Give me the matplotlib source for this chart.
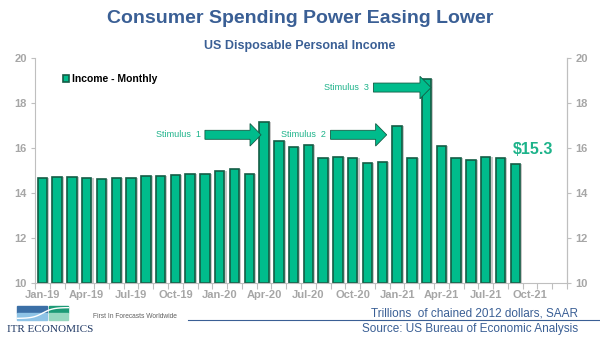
import matplotlib
matplotlib.use("Agg")
import matplotlib.pyplot as plt
import numpy as np
from matplotlib.patches import Rectangle, FancyArrow

plt.rcParams["font.family"] = ["Liberation Sans", "DejaVu Sans"]

months = ["Jan-19","Feb-19","Mar-19","Apr-19","May-19","Jun-19","Jul-19","Aug-19","Sep-19","Oct-19","Nov-19","Dec-19",
          "Jan-20","Feb-20","Mar-20","Apr-20","May-20","Jun-20","Jul-20","Aug-20","Sep-20","Oct-20","Nov-20","Dec-20",
          "Jan-21","Feb-21","Mar-21","Apr-21","May-21","Jun-21","Jul-21","Aug-21","Sep-21","Oct-21","Nov-21","Dec-21"]
income = [14.70, 14.72, 14.72, 14.68, 14.65, 14.67, 14.69, 14.77, 14.79, 14.81, 14.88, 14.84,
          14.97, 15.06, 14.84, 17.15, 16.32, 16.04, 16.14, 15.56, 15.63, 15.57, 15.36, 15.38,
          16.97, 15.55, 19.10, 16.10, 15.58, 15.50, 15.61, 15.57, 15.31]
tick_labels = ["Jan-19","Apr-19","Jul-19","Oct-19","Jan-20","Apr-20","Jul-20","Oct-20","Jan-21","Apr-21","Jul-21","Oct-21"]
yticks = [10, 12, 14, 16, 18, 20]

BAR = "#00BC8C"
EDGE = "#145C45"
TEAL_TXT = "#1DB38A"
BLUE = "#3A5F95"
GREY = "#A6A6A6"

fig = plt.figure(figsize=(6, 3.38), dpi=100)
ax = fig.add_axes([0.0583, 0.1618, 0.8867, 0.6657])

x = np.arange(len(income))
ax.bar(x + 0.14, [v - 10 for v in income], 0.64, bottom=10, color="#C8C8C8", zorder=1)
ax.bar(x, [v - 10 for v in income], 0.64, bottom=10, color=BAR, edgecolor=EDGE, linewidth=1.2, zorder=2,
       label="Income - Monthly")

ax.set_xlim(-0.5, len(months) - 0.5)
ax.set_ylim(10, 20)
ax.set_yticks(yticks)
ax.set_xticks([months.index(t) for t in tick_labels])
ax.set_xticklabels(tick_labels)
ax.set_xticks(np.arange(-0.5, len(months), 1.0), minor=True)
ax.tick_params(axis="x", which="major", length=0, labelsize=8, colors=GREY, pad=5)
ax.tick_params(axis="x", which="minor", length=4, width=0.8, color="#BFBFBF", direction="out")
ax.tick_params(axis="y", length=3, color="#BFBFBF", labelsize=8, labelcolor=GREY, pad=3)
for t in ax.get_xticklabels() + ax.get_yticklabels():
    t.set_fontweight("bold")

ax.spines["top"].set_visible(False)
for s in ["left", "right", "bottom"]:
    ax.spines[s].set_color("#BFBFBF")
    ax.spines[s].set_linewidth(0.8)

ax2 = ax.twinx()
ax2.set_ylim(10, 20)
ax2.set_yticks(yticks)
ax2.tick_params(axis="y", length=3, color="#BFBFBF", labelsize=8, labelcolor=GREY, pad=3)
for t in ax2.get_yticklabels():
    t.set_fontweight("bold")
for s in ["top", "left", "bottom"]:
    ax2.spines[s].set_visible(False)
ax2.spines["right"].set_color("#BFBFBF")

ax.legend(loc="upper left", bbox_to_anchor=(0.035, 0.97), frameon=False,
          handlelength=0.6, handleheight=0.6, handletextpad=0.3, prop={"weight": "bold", "size": 7.5})

# annotations
def stim(label, tx, ty, x0, x1):
    ax.text(tx, ty, label, color=TEAL_TXT, fontsize=6.5, ha="right", va="center")
    ax.add_patch(FancyArrow(x0, ty, x1 - x0, 0, width=0.4, head_width=1.0, head_length=0.75,
                            length_includes_head=True, facecolor=BAR, edgecolor=EDGE, linewidth=0.6, zorder=5))

stim("Stimulus  1", 10.7, 16.6, 11.0, 14.8)
stim("Stimulus  2", 19.2, 16.6, 19.5, 23.3)
stim("Stimulus  3", 22.1, 18.7, 22.4, 26.3)
ax.text(33.2, 15.95, "$15.3", color=TEAL_TXT, fontsize=11.5, fontweight="bold", ha="center", va="center")

fig.text(0.5, 0.945, "Consumer Spending Power Easing Lower", color=BLUE, fontsize=14, fontweight="bold",
         ha="center", va="center")
fig.text(0.5, 0.865, "US Disposable Personal Income", color=BLUE, fontsize=9, fontweight="bold",
         ha="center", va="center")

# footer
fig.text(0.963, 0.072, "Trillions  of chained 2012 dollars, SAAR", color=BLUE, fontsize=8.5, ha="right", va="center")
fig.text(0.963, 0.028, "Source: US Bureau of Economic Analysis", color=BLUE, fontsize=8.5, ha="right", va="center")
fig.add_artist(plt.Line2D([0.313, 1.0], [0.052, 0.052], transform=fig.transFigure, color=BLUE, linewidth=0.8))
fig.text(0.155, 0.052, "First In Forecasts Worldwide", color="#606060", fontsize=4.8, ha="left", va="bottom")
fig.text(0.012, 0.025, "ITR ECONOMICS", color="#1F3864", fontsize=8, family="Liberation Serif", ha="left", va="center")
lx, ly, lw, lh = 0.029, 0.054, 0.05, 0.04
fig.add_artist(Rectangle((lx, ly + lh / 2), lw, lh / 2, transform=fig.transFigure, color="#3B6FA6"))
fig.add_artist(Rectangle((lx, ly), lw, lh / 2, transform=fig.transFigure, color="#8EC3E6"))
fig.add_artist(Rectangle((lx + lw + 0.003, ly + lh / 2), 0.032, lh / 2, transform=fig.transFigure, color="#1C9A76"))
fig.add_artist(Rectangle((lx + lw + 0.003, ly), 0.032, lh / 2, transform=fig.transFigure, color="#96D7BF"))
tt = np.linspace(0, 1, 50)
fig.add_artist(plt.Line2D(lx + tt * (lw + 0.035), ly + lh * 0.1 + lh * 0.8 / (1 + np.exp(-10 * (tt - 0.5))),
                          transform=fig.transFigure, color="white", linewidth=1.0))

fig.savefig("out.png", dpi=100)
